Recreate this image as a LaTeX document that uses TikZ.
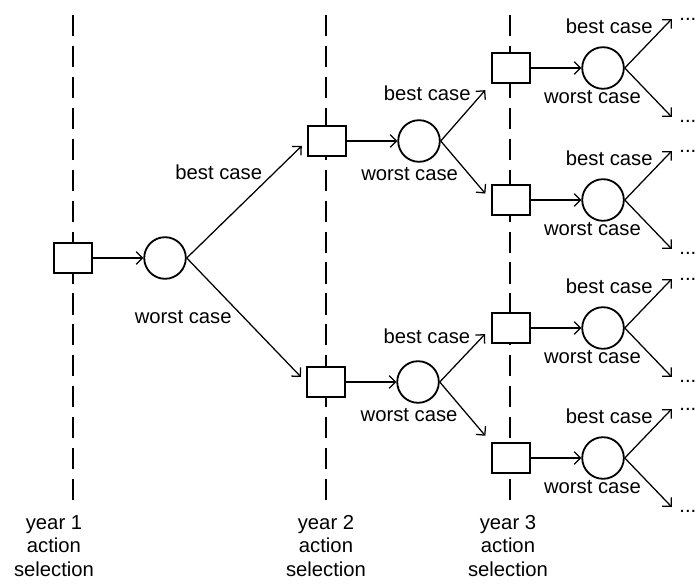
\documentclass[tikz,border=0pt]{standalone}
\usepackage{fontspec}
\setmainfont{Liberation Sans}
\usetikzlibrary{arrows.meta}

\tikzset{
	action/.style={draw, rectangle, fill=white, line width=1.4pt, minimum width=0.96cm, minimum height=0.74cm, inner sep=0pt},
	chance/.style={draw, circle, fill=white, line width=1.3pt, minimum size=1.04cm, inner sep=0pt},
	yearline/.style={line width=1.4pt, dash pattern=on 15pt off 7pt, shorten >=3pt},
	bestlbl/.style={pos=0.65, anchor=south east, inner sep=1.5pt},
	worstlbl/.style={pos=0.4, anchor=north east, inner sep=1.5pt},
	more/.style={pos=1, anchor=west, inner sep=0pt, xshift=5pt},
}

\begin{document}
\begin{tikzpicture}[x=0.025cm, y=-0.025cm, node distance=2.3cm, >={Straight Barb[length=4.5pt,width=9pt]}, line width=0.9pt, font=\fontsize{14.4}{16.8}\selectfont]
	\useasboundingbox (0,0) rectangle (698,584);

	% time lines
	\node[align=center] (y1) at (54,546)  {year 1\\action\\selection};
	\node[align=center] (y2) at (326,546) {year 2\\action\\selection};
	\node[align=center] (y3) at (508,546) {year 3\\action\\selection};

	\coordinate (t1) at (73,15);
	\coordinate (t2) at (326,15);
	\coordinate (t3) at (510,15);

	\draw [yearline] (t1) -- (t1 |- y1.north);
	\draw [yearline] (t2) -- (t2 |- y2.north);
	\draw [yearline] (t3) -- (t3 |- y3.north);

	% year 1
	\node[action] (a0) at (73,258) {};
	\node[chance] (c0) [right of=a0] {};

	\draw [arrows=->] (a0) -- (c0);

	% year 2
	\node[action] (a1) at (327,141) {};
	\node[action] (a2) at (326,382) {};
	\node[chance] (c1) [right of=a1] {};
	\node[chance] (c2) [right of=a2] {};

	\draw [arrows=->, shorten >=5pt] (c0.east) -- (a1.west) node [bestlbl] {best case};
	\draw [arrows=->, shorten >=5pt] (c0.east) -- (a2.west) node [worstlbl] {worst case};
	\draw [arrows=->] (a1) -- (c1);
	\draw [arrows=->] (a2) -- (c2);

	% year 3
	\node[action] (a3) at (511,68)  {};
	\node[action] (a4) at (511,200) {};
	\node[action] (a5) at (511,328) {};
	\node[action] (a6) at (511,458) {};
	\node[chance] (c3) [right of=a3] {};
	\node[chance] (c4) [right of=a4] {};
	\node[chance] (c5) [right of=a5] {};
	\node[chance] (c6) [right of=a6] {};

	\draw [arrows=->, shorten >=6pt] (c1.east) -- (a3.south west) node [bestlbl] {best case};
	\draw [arrows=->, shorten >=6pt] (c1.east) -- (a4.west) node [worstlbl] {worst case};
	\draw [arrows=->, shorten >=6pt] (c2.east) -- (a5.west) node [bestlbl] {best case};
	\draw [arrows=->, shorten >=6pt] (c2.east) -- (a6.north west) node [worstlbl] {worst case};

	\draw [arrows=->] (a3) -- (c3);
	\draw [arrows=->] (a4) -- (c4);
	\draw [arrows=->] (a5) -- (c5);
	\draw [arrows=->] (a6) -- (c6);

	% open ends
	\coordinate (u3) at ([shift={(47,-49)}]c3.east);
	\coordinate (d3) at ([shift={(47,49)}]c3.east);
	\coordinate (u4) at ([shift={(47,-49)}]c4.east);
	\coordinate (d4) at ([shift={(47,49)}]c4.east);
	\coordinate (u5) at ([shift={(47,-49)}]c5.east);
	\coordinate (d5) at ([shift={(47,49)}]c5.east);
	\coordinate (u6) at ([shift={(47,-49)}]c6.east);
	\coordinate (d6) at ([shift={(47,49)}]c6.east);

	\draw [arrows=->] (c3.east) -- (u3) node [bestlbl] {best case}  node [more] {...};
	\draw [arrows=->] (c3.east) -- (d3) node [worstlbl] {worst case} node [more, yshift=-3pt] {...};
	\draw [arrows=->] (c4.east) -- (u4) node [bestlbl] {best case}  node [more] {...};
	\draw [arrows=->] (c4.east) -- (d4) node [worstlbl] {worst case} node [more, yshift=-3pt] {...};
	\draw [arrows=->] (c5.east) -- (u5) node [bestlbl] {best case}  node [more] {...};
	\draw [arrows=->] (c5.east) -- (d5) node [worstlbl] {worst case} node [more, yshift=-3pt] {...};
	\draw [arrows=->] (c6.east) -- (u6) node [bestlbl] {best case}  node [more] {...};
	\draw [arrows=->] (c6.east) -- (d6) node [worstlbl] {worst case} node [more, yshift=-3pt] {...};
\end{tikzpicture}
\end{document}
